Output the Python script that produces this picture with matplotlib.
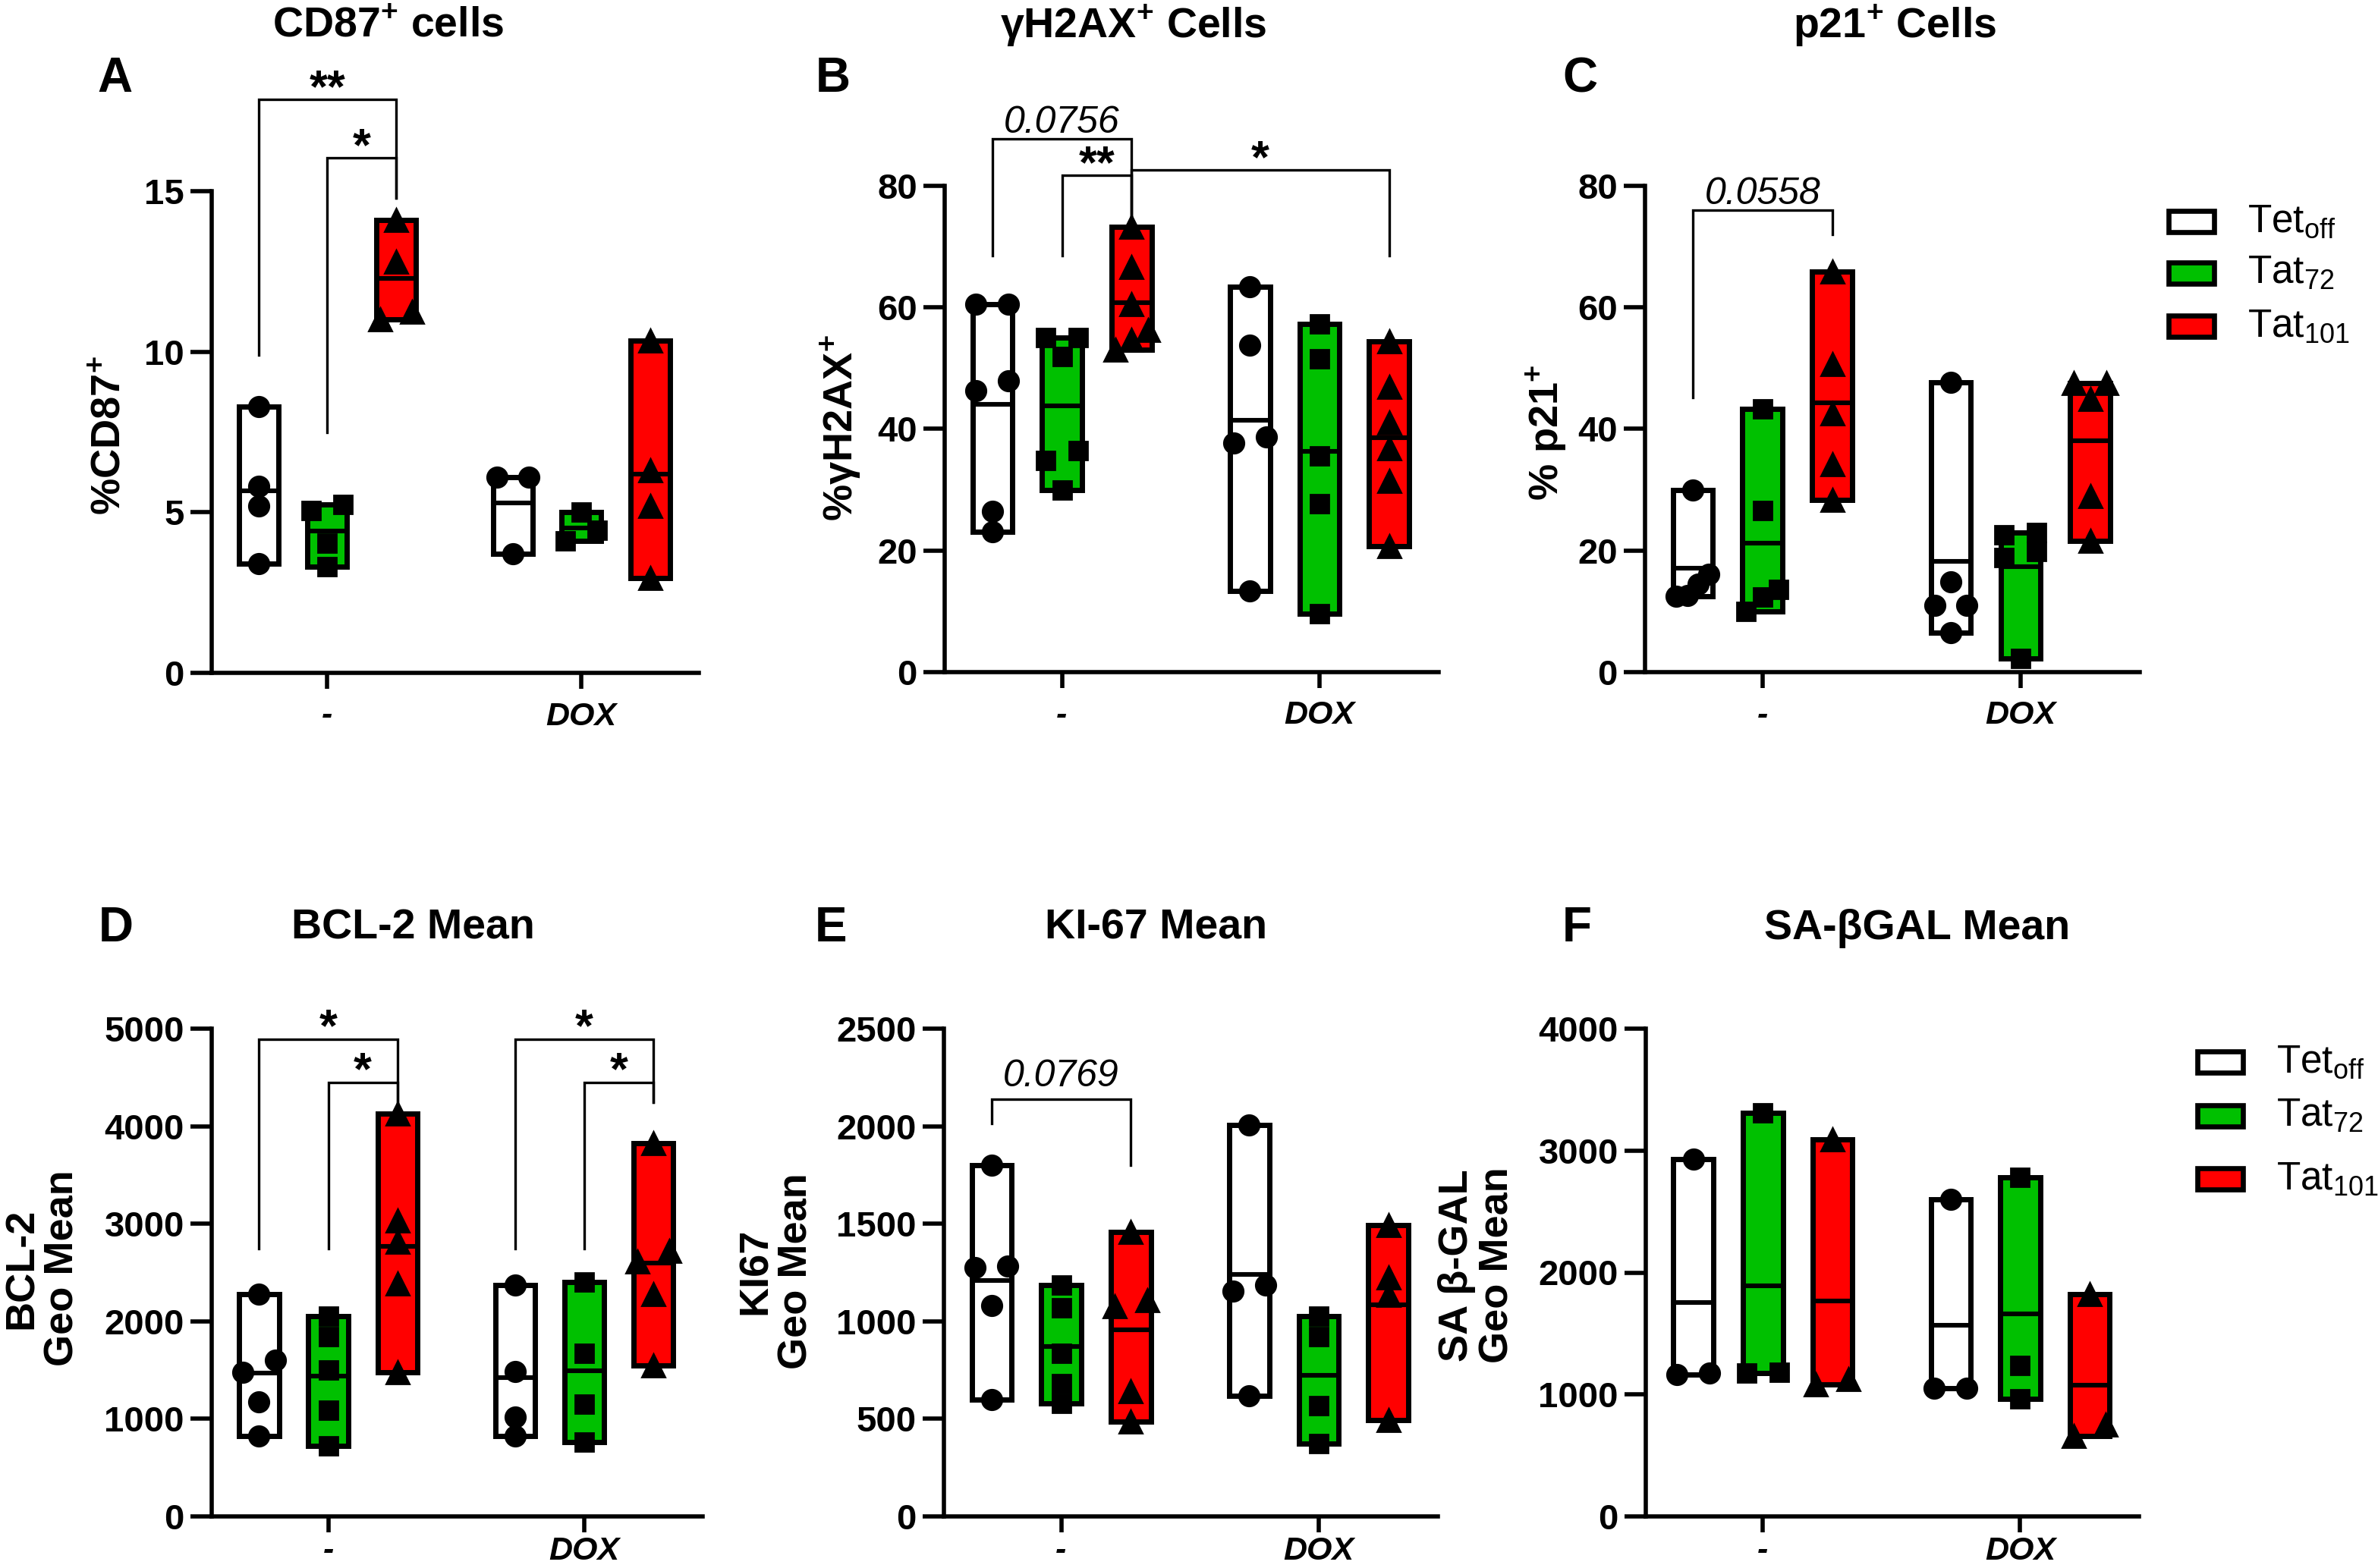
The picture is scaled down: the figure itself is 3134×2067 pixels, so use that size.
import matplotlib
matplotlib.use('Agg')
import matplotlib.pyplot as plt
from matplotlib.font_manager import FontProperties
from matplotlib.patches import Rectangle
import numpy as np

WIDE = 'Liberation Sans'
plt.rcParams['font.family'] = [WIDE, 'DejaVu Sans']
plt.rcParams['mathtext.fontset'] = 'custom'
plt.rcParams['mathtext.rm'] = WIDE
plt.rcParams['mathtext.bf'] = WIDE + ':bold'


def fp(size, bold=True, italic=False):
    return FontProperties(family=WIDE, size=size, weight='bold' if bold else 'normal',
                          style='italic' if italic else 'normal')


# ---- data: [[values at "-"], [values at "DOX"]] per cell line ----
groups = ['-', 'DOX']
series = ['Tet$_{\\mathregular{off}}$', 'Tat$_{\\mathregular{72}}$', 'Tat$_{\\mathregular{101}}$']

cd87_tetoff = [[8.3, 5.8, 5.2, 3.4], [6.1, 6.1, 3.7]]
cd87_tat72 = [[5.05, 5.25, 4.05, 3.3], [5.0, 4.45, 4.1]]
cd87_tat101 = [[14.1, 12.8, 11.0, 11.25], [10.35, 6.3, 5.2, 2.95]]

h2ax_tetoff = [[60.5, 60.5, 46.3, 47.9, 26.4, 23.1], [63.4, 53.8, 38.7, 37.7, 13.4]]
h2ax_tat72 = [[55.0, 55.1, 51.9, 36.4, 34.8, 29.9], [57.3, 51.5, 35.6, 27.7, 9.6]]
h2ax_tat101 = [[73.3, 66.6, 60.5, 56.3, 54.7, 53.1], [54.4, 46.9, 41.1, 36.8, 31.5, 20.7]]

p21_tetoff = [[29.9, 16.1, 14.5, 12.5, 12.6], [47.7, 14.9, 11.0, 11.0, 6.5]]
p21_tat72 = [[43.3, 26.6, 13.6, 12.3, 10.0], [23.0, 22.6, 19.8, 18.8, 2.3]]
p21_tat101 = [[65.9, 50.7, 42.5, 34.2, 28.3], [47.5, 47.5, 44.9, 28.9, 21.6]]

bcl2_tetoff = [[2278, 1601, 1478, 1171, 828], [2370, 1487, 1020, 824]]
bcl2_tat72 = [[2050, 1844, 1500, 1089, 723], [2402, 1670, 1148, 759]]
bcl2_tat101 = [[4131, 3033, 2814, 2384, 1478], [3825, 2722, 2612, 2278, 1546]]

ki67_tetoff = [[1802, 1276, 1283, 1082, 597], [2008, 1185, 1155, 617]]
ki67_tat72 = [[1185, 1070, 835, 682, 579], [1025, 922, 567, 373]]
ki67_tat101 = [[1459, 1077, 1109, 643, 487], [1493, 1225, 1135, 492]]

sagal_tetoff = [[2928, 1164, 1175], [2599, 1054, 1054]]
sagal_tat72 = [[3312, 1175, 1182], [2782, 1237, 963]]
sagal_tat101 = [[3093, 1080, 1127], [1823, 662, 750]]

# significance brackets: (group1, series1, group2, series2, top, left foot, right foot, label)
cd87_sig = [(0, 0, 0, 2, 17.86, 9.9, 14.78, '**'),
            (0, 1, 0, 2, 16.04, 7.49, 14.78, '*')]
h2ax_sig = [(0, 0, 0, 2, 87.7, 68.5, 73.1, '0.0756'),
            (0, 1, 0, 2, 81.7, 68.5, 73.1, '**'),
            (0, 2, 1, 2, 82.6, 73.1, 68.5, '*')]
p21_sig = [(0, 0, 0, 2, 76.0, 45.2, 72.0, '0.0558')]
bcl2_sig = [(0, 0, 0, 2, 4895, 2745, 4246, '*'),
            (0, 1, 0, 2, 4451, 2745, 4246, '*'),
            (1, 0, 1, 2, 4895, 2745, 4246, '*'),
            (1, 1, 1, 2, 4451, 2745, 4246, '*')]
ki67_sig = [(0, 0, 0, 2, 2138, 2015, 1802, '0.0769')]

colors = ['white', '#00C000', '#FF0000']
markers = ['o', 's', '^']
msizes = [9.5, 8.5, 10.5]

W, H, DPI = 3134, 2067, 200
OFFSET = 0.27
BW = 0.155

fig = plt.figure(figsize=(W / DPI, H / DPI), dpi=DPI)


def px_axes(l, r, t, b):
    return fig.add_axes([l / W, 1 - b / H, (r - l) / W, (b - t) / H])


def ftext(x, y, s, **kw):
    return fig.text(x / W, 1 - y / H, s, **kw)


def xpos(g, s):
    return g + (s - 1) * OFFSET


def spread(vals, thr):
    # points that would overlap get spread sideways, like Prism does
    order = np.argsort(vals)
    offs = np.zeros(len(vals))
    clusters, cur = [], [order[0]]
    for i in order[1:]:
        if vals[i] - vals[cur[-1]] < thr:
            cur.append(i)
        else:
            clusters.append(cur)
            cur = [i]
    clusters.append(cur)
    for c in clusters:
        if len(c) > 1:
            offs[c] = np.linspace(-0.063, 0.063, len(c))
    return offs


def panel(ax, data, ymax, ystep, sig=(), xpad=6):
    for s, by_group in enumerate(data):
        for g, vals in enumerate(by_group):
            v = np.array(vals, float)
            x = xpos(g, s)
            ax.bar(x, v.max() - v.min(), bottom=v.min(), width=BW, color=colors[s],
                   edgecolor='black', linewidth=2.5, zorder=2)
            ax.hlines(v.mean(), x - BW / 2, x + BW / 2, color='black', lw=2.2, zorder=3)
            ax.plot(x + spread(v, 0.032 * ymax), v, ls='none', marker=markers[s],
                    ms=msizes[s], color='black', mec='black', zorder=4, clip_on=False)
    ax.set_xlim(-0.455, 1.462)
    ax.set_ylim(0, ymax)
    for sp in ['top', 'right']:
        ax.spines[sp].set_visible(False)
    for sp in ['left', 'bottom']:
        ax.spines[sp].set_linewidth(2.0)
    yt = np.arange(0, ymax + 1, ystep)
    ax.set_yticks(yt)
    ax.set_yticklabels([str(int(t)) for t in yt], fontproperties=fp(17))
    ax.set_xticks([0, 1])
    ax.set_xticklabels(groups, fontproperties=fp(15.5, True, True))
    ax.tick_params(axis='y', direction='out', length=10, width=2.0, pad=3)
    ax.tick_params(axis='x', direction='out', length=7.5, width=2.0, pad=xpad)

    for g1, s1, g2, s2, top, lb, rb, lab in sig:
        x1, x2 = xpos(g1, s1), xpos(g2, s2)
        ax.plot([x1, x1, x2, x2], [lb, top, top, rb], color='black', lw=1.2,
                clip_on=False, solid_joinstyle='miter')
        if '*' in lab:
            ax.annotate(lab, ((x1 + x2) / 2, top), xytext=(0, -1.0), textcoords='offset points',
                        ha='center', va='baseline', fontproperties=fp(22),
                        annotation_clip=False)
        else:
            pad = 6 if top > 1000 else 3
            ax.annotate(lab, ((x1 + x2) / 2, top), xytext=(0, pad), textcoords='offset points',
                        ha='center', va='baseline', fontproperties=fp(18, False, True),
                        annotation_clip=False)


axA = px_axes(279, 921, 252, 887)
panel(axA, [cd87_tetoff, cd87_tat72, cd87_tat101], 15, 5, cd87_sig)
axB = px_axes(1245, 1896, 245, 886)
panel(axB, [h2ax_tetoff, h2ax_tat72, h2ax_tat101], 80, 20, h2ax_sig)
axC = px_axes(2168, 2820, 245, 886)
panel(axC, [p21_tetoff, p21_tat72, p21_tat101], 80, 20, p21_sig)
axD = px_axes(279, 926, 1356, 1999)
panel(axD, [bcl2_tetoff, bcl2_tat72, bcl2_tat101], 5000, 1000, bcl2_sig, xpad=2)
axE = px_axes(1244, 1895, 1356, 1999)
panel(axE, [ki67_tetoff, ki67_tat72, ki67_tat101], 2500, 500, ki67_sig, xpad=2)
axF = px_axes(2169, 2819, 1356, 1999)
panel(axF, [sagal_tetoff, sagal_tat72, sagal_tat101], 4000, 1000, xpad=2)

# titles
tkw = dict(ha='center', va='center', fontproperties=fp(20))
ftext(512, 34, 'CD87$^{\\mathregular{+}}$ cells', **tkw)
ftext(1494, 34, 'γH2AX$^{\\mathregular{+}}$ Cells', **tkw)
ftext(2497, 34, 'p21$^{\\mathregular{+}}$ Cells', **tkw)
ftext(544, 1224, 'BCL-2 Mean', **tkw)
ftext(1524, 1224, 'KI-67 Mean', **tkw)
ftext(2527, 1224, 'SA-βGAL Mean', **tkw)

# panel letters
lkw = dict(ha='left', va='center', fontproperties=fp(23))
ftext(128, 104, 'A', **lkw)
ftext(1075, 104, 'B', **lkw)
ftext(2059, 104, 'C', **lkw)
ftext(130, 1224, 'D', **lkw)
ftext(1074, 1224, 'E', **lkw)
ftext(2059, 1224, 'F', **lkw)

# y labels
ykw = dict(ha='center', va='center', rotation=90, linespacing=1.1, multialignment='center',
           fontproperties=fp(19.5))
ftext(144, 574, '%CD87$^{\\mathregular{+}}$', **ykw)
ftext(1108, 564, '%γH2AX$^{\\mathregular{+}}$', **ykw)
ftext(2038, 570, '% p21$^{\\mathregular{+}}$', **ykw)
ftext(56, 1672, 'BCL-2\nGeo Mean', **ykw)
ftext(1023, 1676, 'KI67\nGeo Mean', **ykw)
ftext(1947, 1668, 'SA β-GAL\nGeo Mean', **ykw)

# legends (key box outer size 67 x 35 px, label 107 px right of the box edge)
for x0, rows in [(2855, [292, 360, 430]), (2893, [1400, 1471, 1554])]:
    for c, lab, yc in zip(colors, series, rows):
        fig.add_artist(Rectangle(((x0 + 3.3) / W, 1 - (yc + 14) / H), 60 / W, 28 / H,
                                 transform=fig.transFigure, facecolor=c,
                                 edgecolor='black', linewidth=2.4))
        ftext(x0 + 107, yc + 14, lab, ha='left', va='baseline',
              fontproperties=fp(18.5, bold=False))

fig.savefig('out.png', dpi=DPI)
